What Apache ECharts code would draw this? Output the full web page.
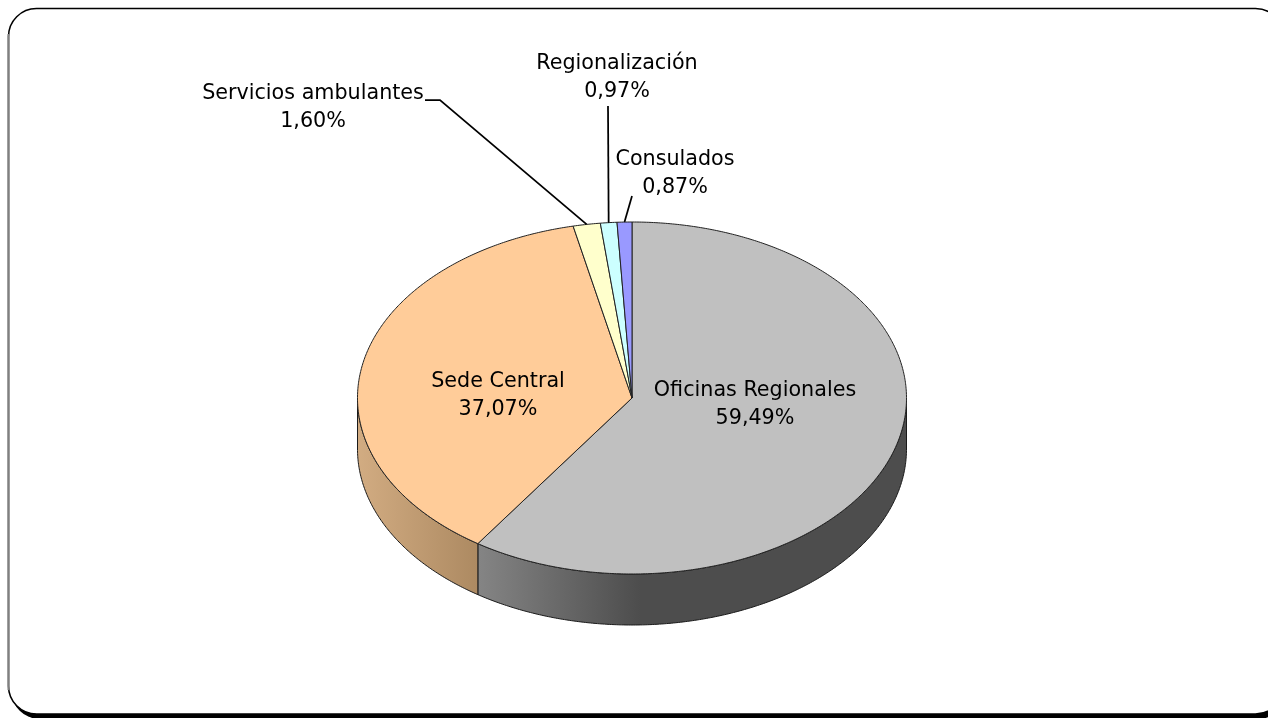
<!DOCTYPE html>
<html>
<head>
<meta charset="utf-8">
<style>html,body{margin:0;padding:0;background:#fff;overflow:hidden}#c{width:1268px;height:718px}</style>
<script src="https://cdn.jsdelivr.net/npm/echarts@6/dist/echarts.min.js"></script>
</head>
<body>
<div id="c"></div>
<script>
const categories = ['Oficinas Regionales', 'Sede Central', 'Servicios ambulantes', 'Regionalización', 'Consulados'];
const shares = [59.49, 37.07, 1.60, 0.97, 0.87];
const topColors = ['#c0c0c0', '#ffcc99', '#ffffcc', '#ccffff', '#9999ff'];

const PIE = { cx: 632, cy: 398, rx: 274.5, ry: 176, depth: 51 };
const FONT = '"DejaVu Sans", sans-serif';
const labelCentres = [[755, 405], [498, 396], [313, 108], [617, 78], [675, 174]];
const leaderKnots = [null, null, [[425, 100], [440, 100]], [[608, 106]], [[632, 196]]];
const sideGradients = [
  { from: 477, to: 640, stops: ['#858585', '#4d4d4d'] },
  { from: 357, to: 477, stops: ['#d2ac82', '#ad8a62'] }
];

const total = shares.reduce((a, b) => a + b, 0);
function rimPoint(deg, drop) {
  const t = deg * Math.PI / 180;
  return [PIE.cx + PIE.rx * Math.sin(t), PIE.cy - PIE.ry * Math.cos(t) + (drop || 0)];
}
function arc(a, b, drop) {
  const pts = [], n = Math.max(2, Math.ceil(Math.abs(b - a) * 2));
  for (let i = 0; i <= n; i++) pts.push(rimPoint(a + (b - a) * i / n, drop));
  return pts;
}

function renderSlice(params, api) {
  const i = params.dataIndex, value = api.value(0);
  let before = 0;
  for (let k = 0; k < i; k++) before += shares[k];
  const a0 = before / total * 360, a1 = (before + value) / total * 360, mid = (a0 + a1) / 2;
  const children = [];

  // side wall: only the part of the slice on the front half of the ellipse
  const s0 = Math.max(a0, 90), s1 = Math.min(a1, 270);
  if (s1 > s0) {
    const g = sideGradients[i];
    children.push({
      type: 'polygon',
      shape: { points: arc(s0, s1, 0).concat(arc(s1, s0, PIE.depth)) },
      style: {
        fill: new echarts.graphic.LinearGradient(g.from, 0, g.to, 0,
          [{ offset: 0, color: g.stops[0] }, { offset: 1, color: g.stops[1] }], true),
        stroke: '#1a1a1a', lineWidth: 1, lineJoin: 'round'
      }
    });
  }
  // top face
  children.push({
    type: 'polygon',
    shape: { points: [[PIE.cx, PIE.cy]].concat(arc(a0, a1, 0)) },
    style: { fill: topColors[i], stroke: '#222', lineWidth: 1, lineJoin: 'round' },
    z2: 2
  });
  // leader line
  if (leaderKnots[i]) {
    children.push({
      type: 'polyline',
      shape: { points: leaderKnots[i].concat([rimPoint(mid, 0)]) },
      style: { fill: 'none', stroke: '#000', lineWidth: 1.75 },
      z2: 3
    });
  }
  // label
  children.push({
    type: 'text',
    x: labelCentres[i][0], y: labelCentres[i][1],
    style: {
      text: categories[i] + '\n' + value.toFixed(2).replace('.', ',') + '%',
      font: '20.7px ' + FONT, lineHeight: 28, fill: '#000',
      align: 'center', verticalAlign: 'middle'
    },
    z2: 4
  });
  return { type: 'group', children: children };
}

const chart = echarts.init(document.getElementById('c'), null, { renderer: 'canvas' });
chart.setOption({
  animation: false,
  backgroundColor: '#fff',
  graphic: { elements: [
    { type: 'rect', z: -3, silent: true, shape: { x: 11.5, y: 13.5, width: 1275, height: 705.5, r: 28 }, style: { fill: '#000' } },
    { type: 'rect', z: -2, silent: true, shape: { x: 8.5, y: 8.5, width: 1275, height: 705.5, r: 28 }, style: { fill: '#fff', stroke: '#000', lineWidth: 1.5 } },
    { type: 'line', z: -1, silent: true, shape: { x1: 8.5, y1: 34, x2: 8.5, y2: 690 }, style: { stroke: '#808080', lineWidth: 2 } }
  ] },
  series: [{
    type: 'custom',
    coordinateSystem: 'none',
    silent: true,
    renderItem: renderSlice,
    data: categories.map((name, i) => ({ name: name, value: [shares[i]] }))
  }]
});
</script>
</body>
</html>
